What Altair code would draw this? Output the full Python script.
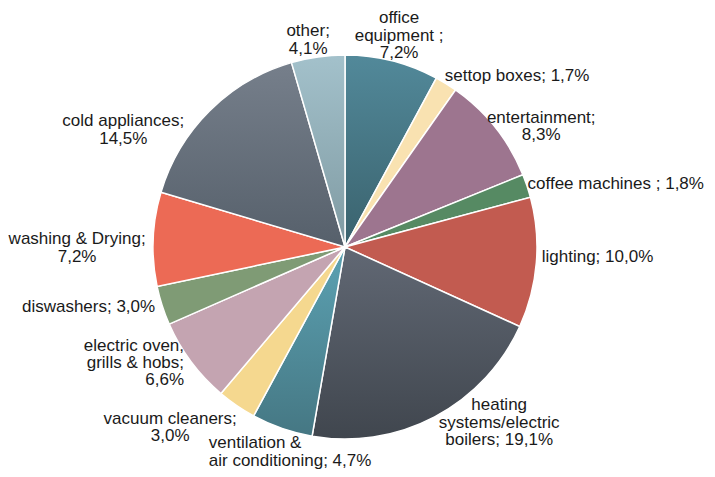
import altair as alt
import pandas as pd

# ---- data ----
categories = [
    "office equipment", "settop boxes", "entertainment", "coffee machines",
    "lighting", "heating systems/electric boilers", "ventilation & air conditioning",
    "vacuum cleaners", "electric oven, grills & hobs", "diswashers",
    "washing & Drying", "cold appliances", "other",
]
values = [7.2, 1.7, 8.3, 1.8, 10.0, 19.1, 4.7, 3.0, 6.6, 3.0, 7.2, 14.5, 4.1]
labels = [
    "office\nequipment ;\n7,2%",
    "settop boxes; 1,7%",
    "entertainment;\n8,3%",
    "coffee machines ; 1,8%",
    "lighting; 10,0%",
    "heating\nsystems/electric\nboilers; 19,1%",
    "ventilation &\nair conditioning; 4,7%",
    "vacuum cleaners;\n3,0%",
    "electric oven,\ngrills & hobs;\n6,6%",
    "diswashers; 3,0%",
    "washing & Drying;\n7,2%",
    "cold appliances;\n14,5%",
    "other;\n4,1%",
]

# ---- styles ----
flat_colors = [
    "#3f6d79", "#f9e2b1", "#9d758f", "#568a63", "#c25b50", "#50565f", "#4f8a98",
    "#f5d88f", "#c4a4b1", "#7f9b75", "#ec6a55", "#646e7a", "#90adb6",
]
gradients = {
    "office equipment": ("#52899a", "#3a626d"),
    "heating systems/electric boilers": ("#616874", "#40464e"),
    "ventilation & air conditioning": ("#5ca2b3", "#457783"),
    "cold appliances": ("#767f8b", "#56606b"),
    "other": ("#a3c1cb", "#7f9aa2"),
}
# label layout: alignment, radial distance (px), angular nudge (deg) of the first line
label_align = ["center", "left", "center", "left", "left", "center", "left",
               "center", "right", "right", "center", "center", "center"]
label_radius = [235, 198, 235, 193, 197, 221, 239, 245, 189, 199, 268, 255, 219]
label_nudge = [-0.9, -1.5, 5.1, -0.4, -1.8, -16.4, 15.6, 11.2, 5.1, 0.3, -0.7, -15.6, -1.6]

CX, CY, R = 337, 239, 192
FONT = "Liberation Sans"

df = pd.DataFrame({
    "cat": categories,
    "value": values,
    "order": list(range(len(categories))),
    "label": labels,
    "align": label_align,
    "lr": label_radius,
    "nudge": label_nudge,
})


def grad(top, bottom):
    return {
        "gradient": "linear", "x1": 0, "y1": 0, "x2": 0, "y2": 1,
        "stops": [{"offset": 0, "color": top}, {"offset": 1, "color": bottom}],
    }


conditions = [
    {"test": f"datum.cat === '{c}'", "value": grad(t, b)}
    for c, (t, b) in gradients.items()
]

base = (
    alt.Chart(df)
    .transform_window(cum="sum(value)", sort=[alt.SortField("order")], frame=[None, 0])
    .transform_joinaggregate(total="sum(value)")
    .transform_calculate(start="2*PI*(datum.cum - datum.value)/datum.total")
    .transform_calculate(end="2*PI*datum.cum/datum.total")
    .transform_calculate(mid="(datum.start + datum.end)/2")
    .transform_calculate(lt="datum.mid + datum.nudge*PI/180")
)

arcs = base.mark_arc(radius=R, stroke="white", strokeWidth=1.5).encode(
    theta=alt.Theta("start:Q", scale=None),
    theta2="end:Q",
    x=alt.value(CX),
    y=alt.value(CY),
    fill=alt.Fill(
        "cat:N",
        scale=alt.Scale(domain=categories, range=flat_colors),
        legend=None,
        condition=conditions,
    ),
)

text_layers = []
for a, lh in [("left", 18), ("center", 17.5), ("right", 17)]:
    text_layers.append(
        base.transform_filter(alt.datum.align == a)
        .mark_text(
            align=a, baseline="middle", font=FONT, fontSize=17,
            lineBreak="\n", lineHeight=lh, color="#1a1a1a",
        )
        .encode(
            theta=alt.Theta("lt:Q", scale=None),
            radius=alt.Radius("lr:Q", scale=None),
            x=alt.value(CX),
            y=alt.value(CY),
            text="label:N",
        )
    )

chart = (
    alt.layer(arcs, *text_layers)
    .properties(width=699, height=461, padding=0,
                autosize=alt.AutoSizeParams(type="none"))
    .configure_view(stroke=None)
)

chart.save("out.html", embed_options={"renderer": "svg", "actions": False})
